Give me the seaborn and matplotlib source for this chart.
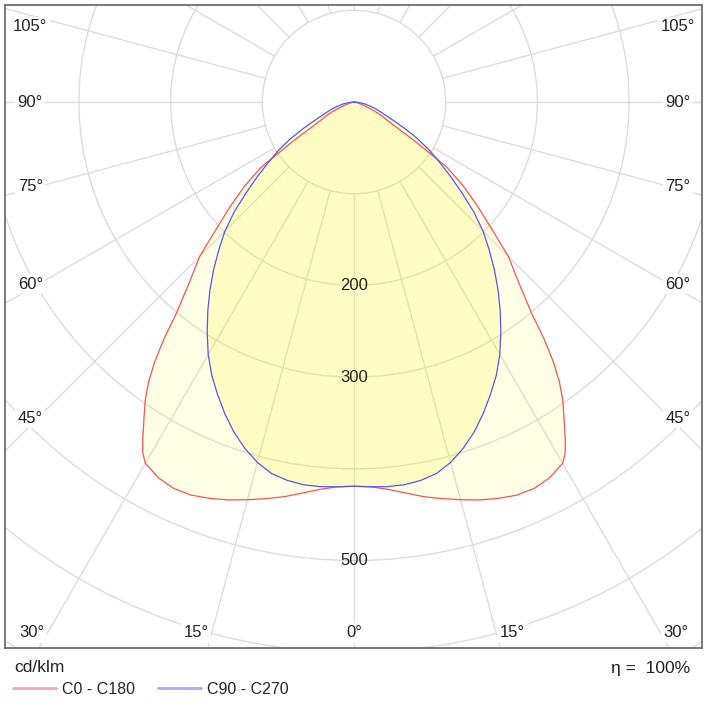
import numpy as np
import pandas as pd
import seaborn as sns
import matplotlib.pyplot as plt
from matplotlib.lines import Line2D
from matplotlib.patches import Circle

# Luminous intensity distribution (cd/klm), gamma angle measured from nadir.
# Values, both planes symmetric.
gamma_c0 = [0, 2.5, 5, 7.5, 10, 12.5, 15, 17.5, 20, 22.5, 25, 27.5, 30, 31, 32,
            32.5, 33.75, 35, 36.25, 37.5, 38.75, 40, 42.5, 45, 47.5, 50, 52.5,
            55, 57.5, 60, 62.5, 65, 67.5, 70, 75, 80, 90]
cd_c0 = [419, 420, 424, 430, 437, 443, 449, 455, 460, 464, 465, 462, 455, 447,
         435, 428, 412, 397, 379, 357, 331, 302, 265, 238, 202, 175, 150, 123,
         76, 48, 37, 29, 20, 13, 5, 2, 0]

gamma_c90 = [0, 2.5, 5, 7.5, 10, 12.5, 15, 17.5, 20, 22.5, 25, 27.5, 30, 32.5,
             35, 37.5, 40, 42.5, 45, 47.5, 50, 52.5, 55, 57.5, 60, 62.5, 65,
             67.5, 70, 72.5, 75, 80, 85, 90]
cd_c90 = [419, 420, 421, 421, 419, 415, 407, 396, 383, 368, 352, 336, 318, 298,
          278, 258, 238, 218, 199, 177, 153, 132, 113, 97, 80, 62, 47, 37, 30,
          25, 20, 12, 5, 0]

curve_names = ['C0 - C180', 'C90 - C270']
rings = [100, 200, 300, 400, 500, 600, 700, 800]
ring_labels = [200, 300, 500]
side_angles = [45, 60, 75, 90, 105]
bottom_angles = [0, 15, 30]
eta = 100
unit = 'cd/klm'

line_colors = ['#f25555', '#5555f2']
legend_colors = ['#f4a7b0', '#a9a9f0']
fill_colors = ['#ffff00', '#fff500']
fill_alpha = [0.10, 0.14]


def to_xy(gamma, cd):
    g = np.array(gamma, dtype=float)
    v = np.array(cd, dtype=float)
    g = np.concatenate([-g[::-1], g[1:]])
    v = np.concatenate([v[::-1], v[1:]])
    t = np.radians(g)
    return v * np.sin(t), -v * np.cos(t)


rows = []
for name, g, v in [(curve_names[0], gamma_c0, cd_c0), (curve_names[1], gamma_c90, cd_c90)]:
    x, y = to_xy(g, v)
    rows.append(pd.DataFrame({'x': x, 'y': y, 'curve': name}))
df = pd.concat(rows, ignore_index=True)

sns.set_style('white')
plt.rcParams['font.family'] = ['Liberation Sans', 'DejaVu Sans']

fig = plt.figure(figsize=(7.07, 7.17), dpi=100)
ax = fig.add_axes([5 / 707, 1 - 648 / 717, 697 / 707, 643 / 717])

# grid
grid_c = '#dcdcdc'
for r in rings:
    ax.add_patch(Circle((0, 0), r, fill=False, ec=grid_c, lw=1, zorder=1))
for a in range(0, 360, 15):
    t = np.radians(a)
    ax.plot([100 * np.sin(t), 900 * np.sin(t)], [-100 * np.cos(t), -900 * np.cos(t)],
            color=grid_c, lw=1, zorder=1)

# fills
for name, fc, al in zip(curve_names, fill_colors, fill_alpha):
    d = df[df['curve'] == name]
    ax.fill(d['x'], d['y'], color=fc, alpha=al, lw=0, zorder=2)

sns.lineplot(data=df, x='x', y='y', hue='curve', palette=line_colors, sort=False,
             estimator=None, linewidth=0.9, legend=False, ax=ax, zorder=3)

# intensity labels
for r in ring_labels:
    ax.text(0, -r, str(r), ha='center', va='center', fontsize=12, color='#222222', zorder=4)

# angle labels
box = dict(boxstyle='square,pad=0.15', fc='white', ec='none')
xs = 344.6
for a in side_angles:
    y = -xs / np.tan(np.radians(a)) if a != 90 else 0
    y = min(y, 82)
    for sgn in (-1, 1):
        ax.text(sgn * 353, y, f'{a}°', ha='center', va='center', fontsize=12,
                color='#222222', bbox=box, zorder=4)
yb = -579
for a in bottom_angles:
    off = 17 if a > 0 else 0
    xb = min(-yb * np.tan(np.radians(a)) + off, 353)
    for sgn in ((1,) if a == 0 else (-1, 1)):
        ax.text(sgn * xb, yb, f'{a}°', ha='center', va='center', fontsize=12,
                color='#222222', bbox=box, zorder=4)

ax.set_xlim(-380.6, 379.5)
ax.set_ylim(-595.4, 105.8)
ax.set_xticks([])
ax.set_yticks([])
ax.set_xlabel('')
ax.set_ylabel('')
for sp in ax.spines.values():
    sp.set_visible(True)
    sp.set_color('#6e6e6e')
    sp.set_linewidth(1.3)

fig.text(14 / 707, 1 - 668 / 717, unit, ha='left', va='center', fontsize=12.5, color='#222222')
fig.text(690 / 707, 1 - 668 / 717, f'η =  {eta}%', ha='right', va='center', fontsize=12.5,
         color='#222222')

handles = [Line2D([], [], color=c, lw=2) for c in legend_colors]
fig.legend(handles, curve_names, loc='center left', bbox_to_anchor=(13 / 707, 1 - 689 / 717),
           ncol=2, frameon=False, fontsize=11.5, handlelength=2.7, handletextpad=0.38,
           columnspacing=1.44, borderpad=0, borderaxespad=0)

fig.savefig('out.png', dpi=100, facecolor='white')
